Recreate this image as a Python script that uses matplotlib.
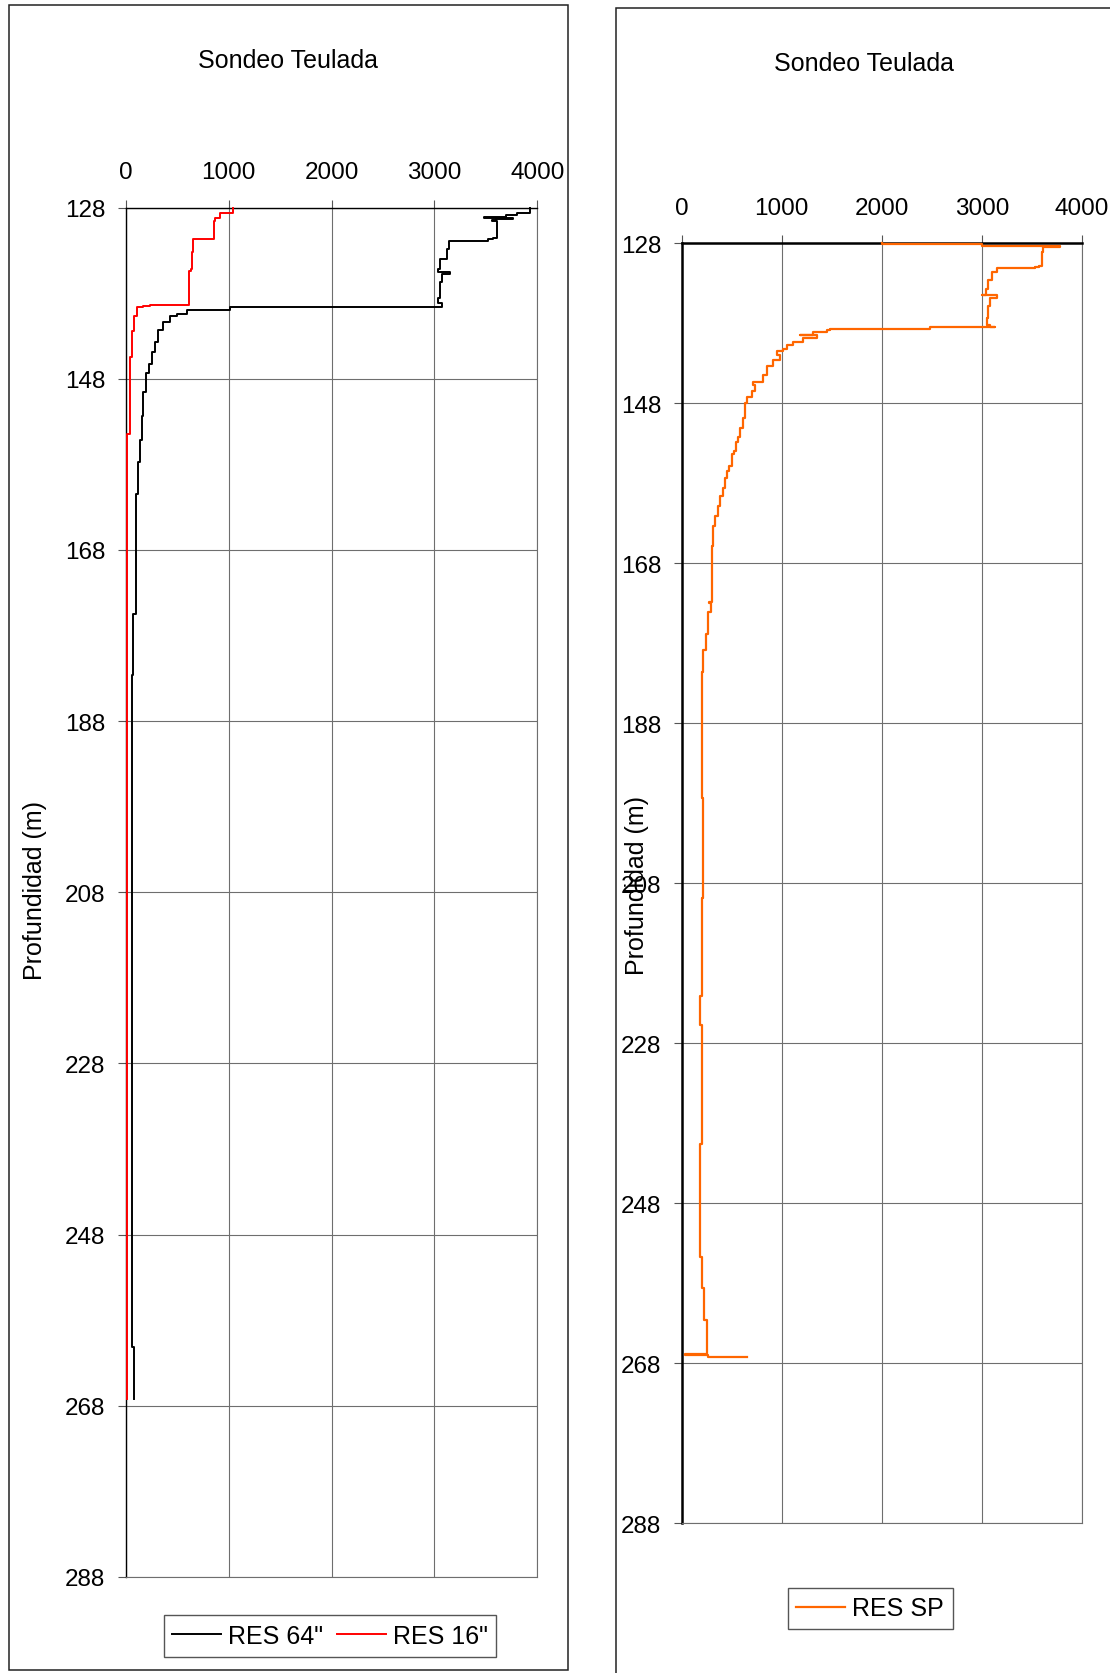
import matplotlib
matplotlib.use('Agg')
import matplotlib.pyplot as plt
from matplotlib.patches import Rectangle
import numpy as np

plt.rcParams['font.family'] = ['Liberation Sans', 'DejaVu Sans']

W, H = 1110, 1674  # output size in px (dpi 100)

# axis ticks
depth_ticks = [128, 148, 168, 188, 208, 228, 248, 268, 288]
res_ticks = [0, 1000, 2000, 3000, 4000]

# RES 64" (black)
res64_val = [3929, 3929, 3800, 3700, 3480, 3760, 3600, 3560, 3606, 3573, 3524, 3427,
             3145, 3120, 3054, 3032, 3152, 3071, 3054, 3054, 3032, 3071, 3071, 1014,
             884, 593, 496, 431, 366, 317, 285, 253, 229, 214, 194, 194, 171, 171,
             155, 155, 139, 139, 120, 120, 100, 100, 74, 74, 58, 58, 81, 81]
res64_depth = [128.0, 128.6, 128.6, 128.9, 129.1, 129.2, 129.3, 129.4, 129.6, 131.5,
               131.7, 131.9, 131.9, 132.8, 134.0, 135.2, 135.5, 135.7, 136.7, 137.9,
               138.5, 139.1, 139.6, 139.6, 139.9, 139.9, 140.4, 140.6, 141.3, 142.3,
               143.7, 144.9, 146.3, 147.3, 147.3, 149.5, 149.5, 152.3, 152.3, 155.1,
               155.1, 157.7, 157.7, 161.5, 161.5, 175.5, 175.5, 182.6, 182.6, 261.2,
               261.2, 267.2]

# RES 16" (red)
res16_val = [1046, 1046, 916, 868, 858, 858, 836, 657, 657, 641, 632, 618, 618, 236,
             171, 107, 84, 65, 42, 42, 16, 16]
res16_depth = [128.0, 128.6, 128.6, 129.2, 129.5, 131.3, 131.6, 131.7, 133.0, 133.2,
               135.2, 135.4, 139.4, 139.4, 139.5, 139.6, 140.6, 142.4, 145.5, 154.4,
               154.4, 267.2]

# RES SP (orange), right panel
ressp_val = [2000, 3000, 3780, 3614, 3597, 3574, 3530, 3147, 3097, 3064, 3041, 2997,
             3147, 3081, 3064, 3054, 3081, 3131, 2481, 1482, 1449, 1316, 1182, 1349,
             1216, 1116, 1049, 1016, 949, 983, 916, 849, 816, 766, 716, 733, 699, 649,
             633, 616, 583, 566, 543, 523, 500, 476, 456, 433, 410, 383, 360, 333, 316,
             300, 300, 276, 290, 290, 266, 266, 243, 243, 216, 216, 200, 200, 216, 216,
             200, 200, 184, 184, 200, 200, 184, 184, 200, 200, 223, 223, 242, 255, 255,
             33, 266, 480, 650]
ressp_depth = [128.0, 128.05, 128.3, 128.5, 129.1, 130.8, 131.0, 131.1, 131.6, 132.6,
               133.7, 134.5, 134.5, 134.9, 135.8, 137.4, 138.2, 138.5, 138.5, 138.7,
               138.8, 139.1, 139.5, 139.5, 139.9, 140.4, 140.7, 141.2, 141.5, 142.0,
               142.6, 143.4, 144.5, 145.3, 145.3, 145.7, 146.5, 147.2, 148.0, 149.9,
               151.1, 152.2, 152.8, 154.0, 154.4, 155.9, 156.5, 157.3, 158.6, 159.6,
               160.9, 162.1, 163.4, 165.8, 172.7, 172.9, 173.0, 174.1, 174.1, 176.8,
               176.8, 178.9, 178.9, 181.6, 181.6, 197.3, 197.3, 209.9, 209.9, 222.1,
               222.1, 225.7, 225.7, 240.6, 240.6, 254.7, 254.7, 258.6, 258.6, 261.8,
               262.6, 262.6, 266.9, 266.9, 267.0, 267.2, 267.2]

GRID = '#6e6e6e'


def log_steps(val, depth):
    # well-log style: value held while depth increases, then jumps
    v = np.repeat(np.asarray(val, float), 2)[:-1]
    d = np.repeat(np.asarray(depth, float), 2)[1:]
    return v, d


def px_axes(fig, x0, y0, x1, y1):
    # place an axes from pixel corners (top-left origin)
    return fig.add_axes([x0 / W, 1 - y1 / H, (x1 - x0) / W, (y1 - y0) / H])


def setup_axes(ax, left_lw):
    ax.set_xlim(0, 4000)
    ax.set_ylim(288, 128)
    ax.set_xticks(res_ticks)
    ax.set_yticks(depth_ticks)
    ax.xaxis.tick_top()
    ax.tick_params(axis='both', direction='out', length=5.8, width=0.8,
                   labelsize=17.5, color='#555555')
    ax.tick_params(axis='x', pad=12)
    ax.tick_params(axis='y', pad=9)
    ax.grid(True, color=GRID, lw=0.8)
    ax.set_axisbelow(True)
    ax.spines['left'].set_color('black')
    ax.spines['left'].set_linewidth(left_lw)
    ax.spines['top'].set_color('black')
    ax.spines['top'].set_linewidth(left_lw)
    for s in ('right', 'bottom'):
        ax.spines[s].set_color(GRID)
        ax.spines[s].set_linewidth(0.8)


fig = plt.figure(figsize=(W / 100, H / 100), dpi=100)

# outer frames of the two chart objects
fig.patches.append(Rectangle((8.5 / W, 1 - 1671 / H), (568 - 8.5) / W, (1671 - 6) / H,
                             transform=fig.transFigure, fill=False, ec='#222222', lw=1.1))
fig.patches.append(Rectangle((616 / W, 1 - 1690 / H), 520 / W, (1690 - 9) / H,
                             transform=fig.transFigure, fill=False, ec='#222222', lw=1.1))

### left panel ###
ax1 = px_axes(fig, 125.7, 208.7, 537.3, 1577.8)
setup_axes(ax1, 1.0)
l64, = ax1.plot(*log_steps(res64_val, res64_depth), color='black', lw=1.4,
                clip_on=False, zorder=3)
l16, = ax1.plot(*log_steps(res16_val, res16_depth), color='#ff0000', lw=1.4,
                clip_on=False, zorder=3)
fig.text(288 / W, 1 - 61 / H, 'Sondeo Teulada', ha='center', va='center', fontsize=18)
fig.text(35 / W, 1 - 891 / H, 'Profundidad (m)', rotation=90, ha='center', va='center',
         fontsize=18)
fig.legend([l64, l16], ['RES 64"', 'RES 16"'], loc='center', ncol=2,
           bbox_to_anchor=(330 / W, 1 - 1637 / H), fontsize=18, frameon=True,
           fancybox=False, edgecolor='#555555', framealpha=1, handlelength=1.96,
           handletextpad=0.27, columnspacing=0.55, borderpad=0.35)

### right panel ###
ax2 = px_axes(fig, 681.7, 244.3, 1082, 1524.1)
setup_axes(ax2, 1.8)
lsp, = ax2.plot(*log_steps(ressp_val, ressp_depth), color='#ff6600', lw=1.6,
                clip_on=False, zorder=3)
fig.text(864.5 / W, 1 - 64 / H, 'Sondeo Teulada', ha='center', va='center', fontsize=18)
fig.text(637 / W, 1 - 886 / H, 'Profundidad (m)', rotation=90, ha='center', va='center',
         fontsize=18)
fig.legend([lsp], ['RES SP'], loc='center',
           bbox_to_anchor=(870 / W, 1 - 1609.5 / H), fontsize=18, frameon=True,
           fancybox=False, edgecolor='#555555', framealpha=1, handlelength=1.96,
           handletextpad=0.27, borderpad=0.35)

fig.savefig('out.png', dpi=100)
